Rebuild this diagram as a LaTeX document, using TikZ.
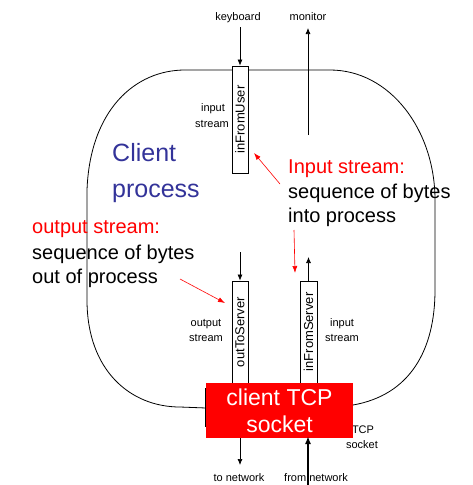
\documentclass[tikz,border=0pt]{standalone}
\usepackage{fontspec}
\setmainfont{Liberation Sans}
\usetikzlibrary{arrows.meta}
\definecolor{procblue}{RGB}{51,51,153}
\definecolor{sockred}{RGB}{255,0,0}
\begin{document}
\begin{tikzpicture}[x=1pt,y=-1pt,
  small/.style={font=\fontsize{11}{13}\selectfont, inner sep=0pt, anchor=base},
  big/.style={font=\fontsize{20}{24}\selectfont, inner sep=0pt, anchor=base west},
  huge/.style={font=\fontsize{25}{30}\selectfont, inner sep=0pt, anchor=base west, text=procblue},
  streambox/.style={draw, fill=white, line width=0.8pt, minimum height=16pt, inner sep=0pt, rotate=90, font=\fontsize{13}{15}\selectfont},
  arr/.style={-{Latex[length=6pt,width=5pt]}, line width=0.7pt},
  thickarr/.style={-{Latex[length=8pt,width=6pt]}, line width=1.6pt},
  redarr/.style={-{Latex[length=7pt,width=5pt]}, sockred, line width=0.6pt},
]
\useasboundingbox (0,0) rectangle (472,485);

% process outline
\draw[line width=0.8pt] (206,408) -- (180,407)
  .. controls (130,407) and (87,370) .. (87,300) -- (87,190)
  .. controls (90,110) and (135,70) .. (185,70) -- (330,70)
  .. controls (390,70) and (435,130) .. (435,200) -- (435,290)
  .. controls (435,350) and (410,395) .. (353,405);

% top labels
\node[small] (kbd) at (238,20) {keyboard};
\node[small] (mon) at (308,20) {monitor};

% small stream labels
\node[small] (isl1) at (213,111) {input};
\node[small] (isl2) at (212,127) {stream};
\node[small] (osl1) at (206,326) {output};
\node[small] (osl2) at (206,341) {stream};
\node[small] (isr1) at (342,326) {input};
\node[small] (isr2) at (342,341) {stream};

% stream boxes
\node[streambox, minimum width=107pt] (inFromUser) at (240,119.5) {inFromUser};
\node[streambox, minimum width=102pt] (outToServer) at (240,332) {outToServer};
\node[streambox, minimum width=102pt, minimum height=17pt] (inFromServer) at (308.5,332) {inFromServer};

% client process
\node[huge] (cl1) at (112,161) {Client};
\node[huge] (cl2) at (112,197) {process};

% annotations
\node[big, text=sockred] (in1) at (288,173) {Input stream:};
\node[big] (in2) at (288,198) {sequence of bytes};
\node[big] (in3) at (288,222) {into process};
\node[big, text=sockred] (out1) at (32,233) {output stream:};
\node[big] (out2) at (32,259) {sequence of bytes};
\node[big] (out3) at (32,283) {out of process};

% hidden TCP socket label
\node[small] (tcp1) at (363,433) {TCP};
\node[small] (tcp2) at (362,448) {socket};

% socket
\draw[line width=0.8pt] (205.5,388) -- (205.5,427);
\node[fill=sockred, text=white, minimum width=147pt, minimum height=55pt, inner sep=0pt,
      align=center, font=\fontsize{23}{27}\selectfont] (sock) at (279.5,410.5) {client TCP\\socket};

% bottom labels
\node[small] (tonet) at (239,481) {to network};
\node[small] (fromnet) at (316,481) {from network};

% coordinates for free ends
\coordinate (kbdtop) at (240,27);
\coordinate (monbot) at (308,135);
\coordinate (montop) at (308,28);
\coordinate (otsin) at (240,252);
\coordinate (ifsout) at (308.5,257);
\coordinate (tonetend) at (240,465);
\coordinate (fromnetstart) at (308,485);
\coordinate (fromnettip) at (308,436);
\coordinate (toneststart) at (240,438);

% black arrows
\draw[arr] (kbdtop) -- (inFromUser.east);
\draw[arr] (monbot) -- (montop);
\draw[arr] (otsin) -- (outToServer.east);
\draw[arr] (inFromServer.east) -- (ifsout);
\draw[arr] (toneststart) -- (tonetend);
\draw[thickarr] (fromnetstart) -- (fromnettip);

% red arrows
\coordinate (r1s) at (280,184);
\coordinate (r1e) at (254,153);
\coordinate (r2s) at (180,279);
\coordinate (r2e) at (225,303);
\coordinate (r3s) at (294,230);
\coordinate (r3e) at (295,273);
\draw[redarr] (r1s) -- (r1e);
\draw[redarr] (r2s) -- (r2e);
\draw[redarr] (r3s) -- (r3e);
\end{tikzpicture}
\end{document}
